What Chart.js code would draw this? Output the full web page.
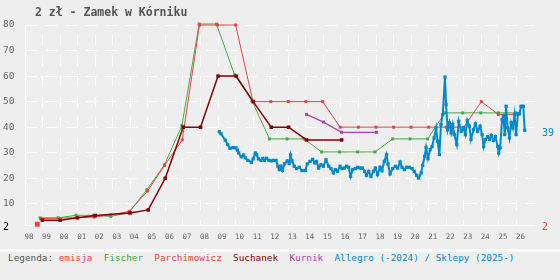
<!DOCTYPE html>
<html>
<head>
<meta charset="utf-8">
<script src="https://cdn.jsdelivr.net/npm/chart.js@4.4.1/dist/chart.umd.min.js"></script>
<style>
    html, body { margin: 0; padding: 0; background: #eeeeee; }
    #wrap { width: 560px; height: 249px; }
    #sep { width: 560px; height: 3px; background: #fbfbfb; }
    #legend {
        width: 560px; height: 28px; line-height: 28px;
        padding-left: 8px; box-sizing: border-box;
        font: 9.35px "DejaVu Sans Mono", monospace;
        white-space: pre; color: #555;
    }
</style>
</head>
<body>
<div id="wrap"><canvas id="c" width="560" height="249"></canvas></div>
<div id="sep"></div>
<div id="legend"></div>
<script>
// 2 zł - Zamek w Kórniku — ceny katalogowe i rynkowe
const chartTitle = '2 zł - Zamek w Kórniku';

const xTickYears = [1998, 1999, 2000, 2001, 2002, 2003, 2004, 2005, 2006, 2007, 2008, 2009, 2010, 2011, 2012,
    2013, 2014, 2015, 2016, 2017, 2018, 2019, 2020, 2021, 2022, 2023, 2024, 2025, 2026];
const xTickLabels = ['98', '99', '00', '01', '02', '03', '04', '05', '06', '07', '08', '09', '10', '11', '12',
    '13', '14', '15', '16', '17', '18', '19', '20', '21', '22', '23', '24', '25', '26'];
const yTickValues = [10, 20, 30, 40, 50, 60, 70, 80];

const seriesNames = ['emisja', 'Fischer', 'Parchimowicz', 'Suchanek', 'Kurnik', 'Allegro (-2024) / Sklepy (2025-)'];
const seriesColors = ['#ff4040', '#44aa44', '#e84444', '#880000', '#aa44aa', '#0088cc'];

const emisjaYears = [1998.7];
const emisjaPrices = [2];

const fischerYears = [1998.86, 1999.89, 2000.9, 2001.9, 2002.89, 2003.9, 2004.94, 2005.95, 2006.94, 2007.92,
    2008.91, 2009.94, 2010.93, 2011.93, 2012.93, 2013.9, 2014.9, 2015.93, 2016.95, 2017.94, 2018.95, 2019.94,
    2020.94, 2021.93, 2022.94, 2023.97, 2024.96, 2025.98];
const fischerPrices = [4.5, 4.5, 5.5, 5.5, 5.1, 6.5, 15.5, 25.3, 40.6, 80.4,
    80.4, 60.5, 50.4, 35.4, 35.4, 35.4, 30.3, 30.3, 30.3, 30.3, 35.4, 35.4,
    35.4, 45.6, 45.6, 45.6, 45.6, 45.6];

const parchYears = [1998.9, 2001.94, 2002.89, 2003.94, 2004.98, 2005.95, 2006.96, 2007.94, 2008.97, 2010.0,
    2010.99, 2012.0, 2013.0, 2014.0, 2014.96, 2015.96, 2017.0, 2018.0, 2019.0, 2020.0, 2021.0, 2022.0,
    2023.0, 2024.0, 2024.97, 2025.9];
const parchPrices = [4.2, 4.8, 5.7, 7.0, 15, 25, 35, 80, 80, 80,
    50, 50, 50, 50, 50, 40, 40, 40, 40, 40, 40, 40,
    40, 50, 45, 45];

const suchanekYears = [1998.99, 2000.0, 2000.99, 2002.0, 2003.99, 2005.02, 2005.99, 2007.01, 2008.0, 2009.0,
    2010.03, 2011.0, 2012.03, 2013.02, 2014.04, 2016.04];
const suchanekPrices = [3.6, 3.6, 4.5, 5.4, 6.4, 7.6, 20, 40, 40, 60,
    60, 50, 40, 40, 35, 35];

const kurnikYears = [2014.04, 2015.01, 2016.04, 2018.02];
const kurnikPrices = [45, 42, 38, 38];

const allegroYears = [2009.07, 2009.17, 2009.41, 2009.55, 2009.68, 2009.85, 2010.02, 2010.1, 2010.17, 2010.32,
    2010.45, 2010.55, 2010.7, 2010.9, 2011.0, 2011.12, 2011.2, 2011.3, 2011.45, 2011.55,
    2011.65, 2011.76, 2011.9, 2012.03, 2012.15, 2012.3, 2012.41, 2012.49, 2012.58, 2012.67,
    2012.79, 2012.94, 2013.05, 2013.13, 2013.21, 2013.34, 2013.47, 2013.63, 2013.78, 2013.97,
    2014.08, 2014.24, 2014.39, 2014.5, 2014.61, 2014.73, 2014.86, 2015.0, 2015.15, 2015.3,
    2015.43, 2015.57, 2015.68, 2015.81, 2015.95, 2016.06, 2016.19, 2016.32, 2016.44, 2016.55,
    2016.67, 2016.82, 2016.95, 2017.09, 2017.22, 2017.35, 2017.46, 2017.58, 2017.71, 2017.85,
    2017.96, 2018.09, 2018.23, 2018.34, 2018.47, 2018.6, 2018.68, 2018.8, 2018.95, 2019.1,
    2019.23, 2019.37, 2019.48, 2019.61, 2019.74, 2019.9, 2020.05, 2020.18, 2020.32, 2020.43,
    2020.57, 2020.66, 2020.77, 2020.85, 2020.96, 2021.08, 2021.19, 2021.31, 2021.42, 2021.51,
    2021.61, 2021.7, 2021.8, 2021.93, 2021.99, 2022.08, 2022.18, 2022.28, 2022.37, 2022.46,
    2022.6, 2022.71, 2022.85, 2022.98, 2023.09, 2023.2, 2023.32, 2023.41, 2023.55, 2023.66,
    2023.79, 2023.93, 2024.04, 2024.13, 2024.23, 2024.36, 2024.46, 2024.57, 2024.69, 2024.8,
    2024.93, 2024.99, 2025.07, 2025.18, 2025.26, 2025.33, 2025.41, 2025.5, 2025.6, 2025.7,
    2025.79, 2025.89, 2025.98, 2026.08, 2026.17, 2026.26, 2026.39, 2026.47];
const allegroPrices = [38.2, 37.4, 34.9, 33.2, 31.7, 32.0, 31.9, 31.0, 29.9, 28.4,
    29.1, 28.0, 27.0, 26.2, 27.6, 29.9, 29.2, 27.6, 27.0, 27.8,
    27.0, 27.8, 27.0, 26.8, 27.0, 27.0, 24.7, 23.4, 24.7, 23.1,
    25.7, 26.8, 25.8, 29.1, 26.8, 24.7, 23.8, 24.3, 23.0, 23.0,
    25.6, 26.6, 27.4, 26.0, 26.6, 24.0, 25.3, 24.7, 27.2, 24.7,
    23.8, 22.1, 23.4, 22.7, 24.7, 23.8, 24.0, 24.7, 24.3, 20.7,
    23.4, 23.8, 24.3, 24.0, 24.0, 22.7, 21.1, 22.7, 20.7, 22.7,
    24.0, 21.4, 24.3, 23.0, 26.6, 29.3, 25.6, 21.7, 23.8, 24.7,
    24.0, 26.4, 24.3, 23.4, 24.3, 24.3, 23.8, 22.7, 21.1, 20.1,
    22.1, 25.1, 28.6, 32.1, 27.7, 31.2, 32.4, 35.8, 39.7, 34.5,
    29.3, 41.0, 44.9, 59.6, 48.9, 39.0, 41.7, 37.8, 41.0, 37.1,
    33.2, 42.3, 38.4, 39.7, 37.1, 42.6, 40.4, 35.2, 39.0, 41.3,
    38.4, 40.4, 37.1, 32.4, 35.2, 36.3, 35.2, 36.8, 34.8, 36.3,
    32.5, 29.9, 31.9, 43.0, 44.3, 37.1, 48.2, 39.7, 35.8, 41.7,
    39.7, 44.9, 37.1, 45.2, 45.2, 48.2, 48.2, 38.8];

function pts(xs, ys) {
    return xs.map((x, i) => ({ x: x, y: ys[i] }));
}

function series(idx, xs, ys, lineWidth, radius, order) {
    return {
        label: seriesNames[idx],
        data: pts(xs, ys),
        borderColor: seriesColors[idx],
        backgroundColor: seriesColors[idx],
        borderWidth: lineWidth,
        pointStyle: 'rect',
        pointRadius: radius,
        pointBorderWidth: 0,
        pointBackgroundColor: seriesColors[idx],
        tension: 0,
        clip: false,
        order: order
    };
}

const font = '"DejaVu Sans Mono", monospace';

// tytuł + etykiety ostatnich wartości po prawej
const extraText = {
    id: 'extraText',
    afterDraw(chart) {
        const { ctx, chartArea, scales } = chart;
        const y = scales.y;
        ctx.save();
        ctx.font = 'bold 11.5px ' + font;
        ctx.fillStyle = '#555';
        ctx.textBaseline = 'alphabetic';
        ctx.textAlign = 'left';
        ctx.fillText(chartTitle, 35, 16);

        ctx.font = '10px ' + font;
        ctx.textBaseline = 'middle';
        const lastAllegro = allegroPrices[allegroPrices.length - 1];
        const lastEmisja = emisjaPrices[emisjaPrices.length - 1];
        ctx.fillStyle = seriesColors[5];
        ctx.fillText(String(Math.round(lastAllegro)), chartArea.right + 8, y.getPixelForValue(lastAllegro) + 3.5);
        ctx.fillStyle = seriesColors[0];
        ctx.fillText(String(lastEmisja), chartArea.right + 8, y.getPixelForValue(lastEmisja) + 3.5);
        ctx.fillStyle = '#000';
        ctx.fillText(String(lastEmisja), 3, y.getPixelForValue(lastEmisja) + 3.5);
        ctx.restore();
    }
};

new Chart(document.getElementById('c'), {
    type: 'line',
    data: {
        datasets: [
            series(0, emisjaYears, emisjaPrices, 1, 3.5, 0),
            series(5, allegroYears, allegroPrices, 2, 2.3, 1),
            series(3, suchanekYears, suchanekPrices, 1.5, 2.5, 2),
            series(4, kurnikYears, kurnikPrices, 1.3, 2.1, 3),
            series(2, parchYears, parchPrices, 1, 2.1, 4),
            series(1, fischerYears, fischerPrices, 1, 2.1, 5)
        ]
    },
    options: {
        responsive: false,
        animation: false,
        events: [],
        layout: { padding: { top: 25, right: 26, left: 3, bottom: 0 } },
        plugins: {
            legend: { display: false },
            title: { display: false },
            tooltip: { enabled: false }
        },
        scales: {
            x: {
                type: 'linear',
                min: 1998,
                max: 2027,
                afterBuildTicks: s => { s.ticks = xTickYears.map(v => ({ value: v })); },
                afterFit: s => { s.height = 24; },
                ticks: {
                    autoSkip: false,
                    maxRotation: 0,
                    labelOffset: 4,
                    padding: 8,
                    color: '#666',
                    font: { family: font, size: 7.5 },
                    callback: (v) => xTickLabels[xTickYears.indexOf(v)]
                },
                grid: { color: '#ffffff', lineWidth: 1, drawTicks: false },
                border: { display: true, color: '#ffffff', width: 1, dash: [11, 9.6], dashOffset: 11 }
            },
            y: {
                type: 'linear',
                min: 1.7,
                max: 80,
                afterBuildTicks: s => { s.ticks = yTickValues.map(v => ({ value: v })); },
                afterFit: s => { s.width = 22; },
                ticks: {
                    crossAlign: 'far',
                    padding: 4,
                    color: '#666',
                    font: { family: font, size: 9.5 },
                    callback: (v) => String(v)
                },
                grid: { color: '#ffffff', lineWidth: 1, drawTicks: false },
                border: { display: true, color: '#ffffff', width: 1, dash: [11, 9] }
            }
        }
    },
    plugins: [extraText]
});

// legenda pod wykresem
const legendEl = document.getElementById('legend');
let html = 'Legenda: ';
seriesNames.forEach((name, i) => {
    html += (i > 0 ? '  ' : '') + '<span style="color:' + seriesColors[i] + '">' + name + '</span>';
});
legendEl.innerHTML = html;
</script>
</body>
</html>
